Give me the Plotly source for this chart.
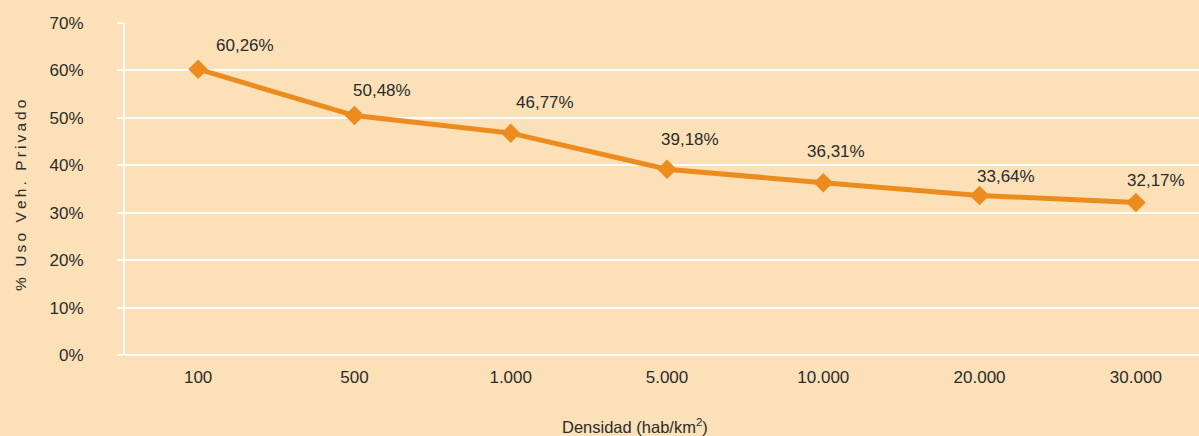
import plotly.graph_objects as go

categories = ["100", "500", "1.000", "5.000", "10.000", "20.000", "30.000"]
uso_privado = [60.26, 50.48, 46.77, 39.18, 36.31, 33.64, 32.17]
y_ticks = [0, 10, 20, 30, 40, 50, 60, 70]
y_tick_labels = [f"{v}%" for v in y_ticks]

# label placement (styling only): pixel offsets of each data label from its marker
label_dx = [47, 28, 34, 23, 13, 26, 20]
label_dy = [24, 25, 31, 30, 31, 19, 22]

LINE = "#EC8C1F"
BG = "#FCE1B8"
TXT = "#2B2B2B"
FONT = "Arial, Liberation Sans, sans-serif"

fig = go.Figure()
fig.add_trace(go.Scatter(
    x=categories, y=uso_privado, mode="lines+markers",
    line=dict(color=LINE, width=5),
    marker=dict(symbol="diamond", size=15, color=LINE),
    hoverinfo="skip", showlegend=False,
))

for i, (v, dx, dy) in enumerate(zip(uso_privado, label_dx, label_dy)):
    fig.add_annotation(
        x=i, y=v, xref="x", yref="y",
        text=f"{v:.2f}".replace(".", ",") + "%",
        showarrow=False, xshift=dx, yshift=dy,
        font=dict(family=FONT, size=17, color=TXT),
    )

fig.add_annotation(
    xref="paper", yref="paper", x=(635 - 125) / 1074, y=0, yshift=-71,
    text="Densidad (hab/km<sup>2</sup>)", showarrow=False,
    font=dict(family=FONT, size=16.5, color=TXT), yanchor="middle",
)

ytitle = "\u2009".join("% Uso Veh. Privado")
fig.add_annotation(
    xref="paper", yref="paper", x=(20 - 125) / 1074, y=(355 - 196) / 332,
    text=ytitle, textangle=-90, showarrow=False,
    font=dict(family=FONT, size=15.5, color=TXT),
    xanchor="center", yanchor="middle",
)

fig.update_layout(
    width=1199, height=436,
    margin=dict(l=125, r=0, t=23, b=81),
    paper_bgcolor=BG, plot_bgcolor=BG,
    font=dict(family=FONT, size=17, color=TXT),
    xaxis=dict(
        type="category", range=[-0.468, 6.404],
        showgrid=False, showline=False, zeroline=False, ticks="",
        tickfont=dict(family=FONT, size=17, color=TXT),
        ticklabelstandoff=10,
    ),
    yaxis=dict(
        range=[0, 70], tickvals=y_ticks, ticktext=y_tick_labels,
        showgrid=True, gridcolor="white", gridwidth=2,
        showline=True, linecolor="white", linewidth=2,
        ticks="outside", ticklen=6, tickcolor="white", tickwidth=2,
        zeroline=True, zerolinecolor="white", zerolinewidth=2,
        tickfont=dict(family=FONT, size=17, color=TXT),
        ticklabelstandoff=30,
    ),
)

fig.write_html(
    "out.html",
    config={"displayModeBar": False},
    post_script="document.body.style.margin='0';document.body.style.overflow='hidden';",
)
